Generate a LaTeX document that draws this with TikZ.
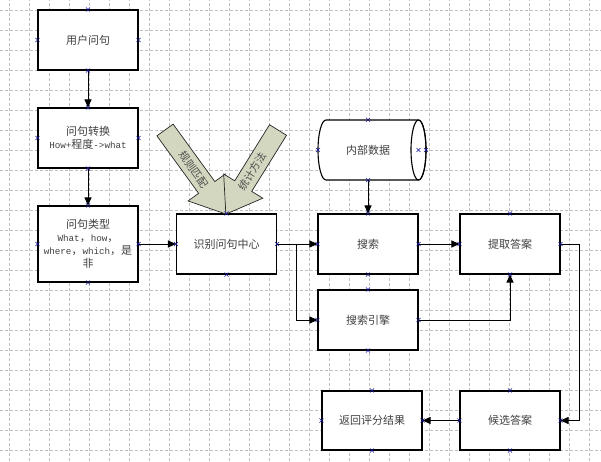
\documentclass[tikz,border=0pt]{standalone}
\usepackage{fontspec}
\setmainfont{Noto Sans CJK SC}
\newfontfamily\lat{Liberation Mono}[Scale=0.84]
\usetikzlibrary{arrows.meta,calc}
\definecolor{navy}{RGB}{20,20,150}
\definecolor{sage}{RGB}{212,215,192}
\newcommand\xm[1]{\draw[mk] #1 +(-2,-2) -- +(2,2) +(-2,2) -- +(2,-2);}

\begin{document}
\begin{tikzpicture}[x=1pt,y=1pt]
  \tikzset{
    box/.style={draw=black, fill=white, line width=1.1pt, minimum width=100pt, minimum height=60pt,
      inner sep=1pt, align=center, text=black!75, font=\fontsize{11}{13}\selectfont},
    txt/.style={minimum width=92pt, minimum height=60pt, inner sep=1pt, text=black!75, font=\fontsize{11}{13}\selectfont},
    e/.style={draw=black, line width=1pt, -{Triangle[length=8pt,width=7pt]}},
    l/.style={draw=black, line width=1.1pt},
    g/.style={draw=black!25, line width=0.6pt, dash pattern=on 3pt off 2pt},
    mk/.style={draw=navy, line width=0.6pt},
    big/.style={draw=black!85, fill=sage, line width=0.7pt},
    bigtxt/.style={text=black!70, font=\fontsize{10.5}{12}\selectfont, inner sep=0pt}
  }

  % page and background grid
  \useasboundingbox (0,0) rectangle (601,461);
  \fill[white] (0,0) rectangle (601,461);
  \foreach \x in {9,29,...,589} \draw[g] (\x,0) -- (\x,461);
  \foreach \y in {11,31,...,451} \draw[g] (0,\y) -- (601,\y);

  % question chain (left column)
  \node[box] (ask) at (88,421) {用户问句};
  \node[box] (conv) at (88,323) {问句转换\\{\lat How+}程度{\lat ->what}};
  \node[box, minimum height=76pt] (kind) at (88,217) {问句类型\\{\lat What}，{\lat how}，\\{\lat where}，{\lat which}，是\\非};

  % middle row
  \node[box] (core) at (226.5,217) {识别问句中心};
  \node[box] (search) at (368,217) {搜索};
  \node[box] (engine) at (368,141) {搜索引擎};
  \node[box] (fetch) at (510,217) {提取答案};

  % bottom row
  \node[box, minimum height=59pt] (cand) at (510,40.5) {候选答案};
  \node[box, minimum height=59pt] (score) at (372,40.5) {返回评分结果};

  % internal data store (cylinder lying on its side)
  \draw[l, fill=white] (326,341) -- (418.5,341) arc[start angle=90, end angle=-90, x radius=7.5, y radius=30]
    -- (326,281) arc[start angle=270, end angle=90, x radius=8, y radius=30] -- cycle;
  \draw[l] (418.5,311) ellipse[x radius=7.5, y radius=30];
  \node[txt] (data) at (368,311) {内部数据};

  % connectors
  \draw[e] (ask.south) -- (conv.north);
  \draw[e] (conv.south) -- (kind.north);
  \draw[e] (kind.east) -- (core.west);
  \draw[e] (core.east) -- (search.west);
  \coordinate (fork) at ($(core.east)+(19,0)$);
  \draw[e] (fork) |- (engine.west);
  \draw[e] (data.south) -- (search.north);
  \draw[e] (search.east) -- (fetch.west);
  \draw[e] (engine.east) -| (fetch.south);
  \coordinate (bend) at ($(fetch.east)+(19,0)$);
  \draw[e] (fetch.east) -- (bend) |- (cand.east);
  \draw[e] (cand.west) -- (score.east);

  % the two block arrows into the centre box
  \begin{scope}[shift={(165,331)}, rotate=-54]
    \draw[big] (0,10) -- (71,10) -- (71,23) -- (104,0) -- (71,-23) -- (71,-10) -- (0,-10) -- cycle;
    \node[bigtxt, rotate=-54] (rule) at (49,0) {规则匹配};
  \end{scope}
  \begin{scope}[shift={(278,331)}, rotate=-121.8]
    \draw[big] (0,10) -- (66,10) -- (66,23) -- (99,0) -- (66,-23) -- (66,-10) -- (0,-10) -- cycle;
    \node[bigtxt, rotate=58.2] (stat) at (49,0) {统计方法};
  \end{scope}

  % connection point markers
  \foreach \n in {ask,conv,kind,core,search,engine,fetch,cand,score}
    \foreach \a in {north,south,east,west} {\xm{(\n.\a)}}
  \xm{(data.north)} \xm{(data.south)} \xm{(318,311)} \xm{(418.5,311)} \xm{(426,311)}
\end{tikzpicture}
\end{document}
